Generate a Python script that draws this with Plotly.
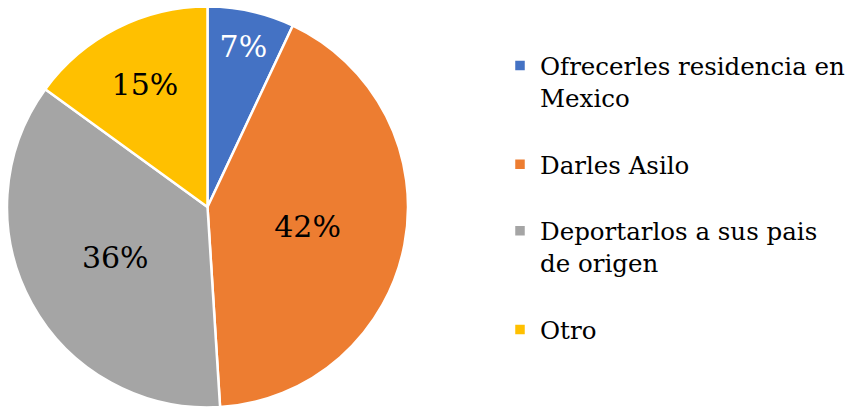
import plotly.graph_objects as go

labels = ["Ofrecerles residencia en<br>Mexico<br> ", "Darles Asilo<br> ",
          "Deportarlos a sus pais<br>de origen<br> ", "Otro"]
values = [7, 42, 36, 15]
colors = ["#4472C4", "#ED7D31", "#A5A5A5", "#FFC000"]
text_colors = ["white", "black", "black", "black"]

SERIF = "DejaVu Serif"
W, H = 851, 410
fig = go.Figure(go.Pie(
    labels=labels,
    values=values,
    sort=False,
    direction="clockwise",
    rotation=0,
    marker=dict(colors=colors, line=dict(color="white", width=2.5)),
    texttemplate="%{percent:.0%}",
    textposition="inside",
    insidetextorientation="horizontal",
    textfont=dict(family=SERIF, size=30, color=text_colors),
    domain=dict(x=[7 / W, 408 / W], y=[0, 1]),
    hoverinfo="label+percent",
))

fig.update_layout(
    width=W, height=H,
    margin=dict(l=0, r=0, t=6, b=2),
    paper_bgcolor="white",
    plot_bgcolor="white",
    font=dict(family=SERIF, color="#000000"),
    legend=dict(
        x=1, xanchor="right",
        y=0.9075, yanchor="top",
        font=dict(family=SERIF, size=24.5, color="#000000"),
        valign="top",
        tracegroupgap=0,
        bgcolor="rgba(0,0,0,0)",
    ),
    showlegend=True,
)

fig.write_html("out.html", config={"displayModeBar": False},
               post_script="document.body.style.margin='0px';")
